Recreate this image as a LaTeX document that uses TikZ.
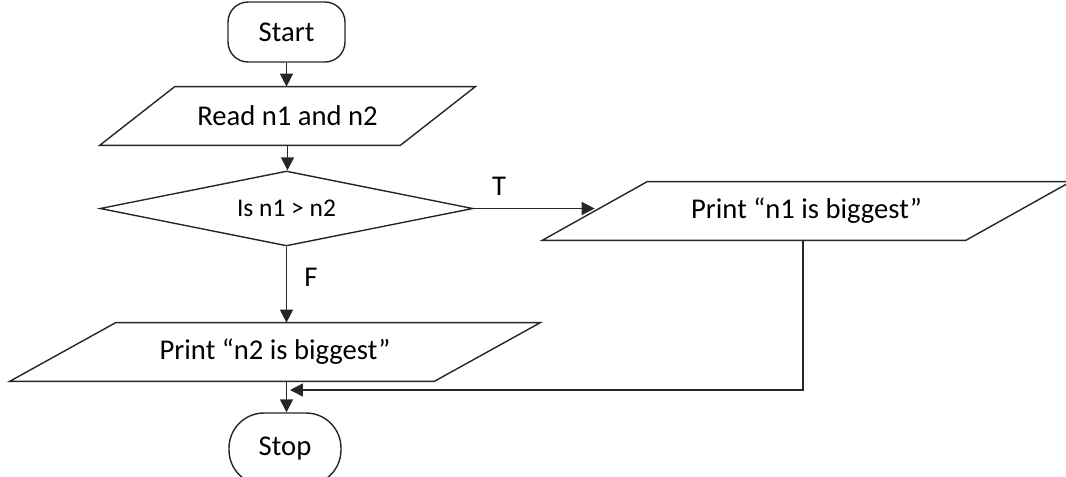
\documentclass[tikz,border=0pt]{standalone}
\usepackage{fontspec}
\setmainfont{Carlito}
\usetikzlibrary{shapes.geometric,arrows.meta}
\begin{document}
\begin{tikzpicture}[x=0.02cm,y=-0.02cm,
  every node/.style={font=\fontsize{16.3}{19}\selectfont},
  line/.style={draw=black!85, line width=0.8pt},
  arr/.style={line, -{Triangle[length=0.26cm,width=0.26cm]}},
  terminal/.style={line, rectangle, inner sep=0pt},
  io/.style={rectangle, inner sep=0pt, minimum height=1.16cm},
  decision/.style={line, diamond, inner sep=0pt},
  lbl/.style={inner sep=0pt}]
\useasboundingbox (0,0) rectangle (1066,477);
\clip (0,0) rectangle (1066,477);
% nodes
\node[terminal, rounded corners=0.4cm, minimum width=2.34cm, minimum height=1.2cm] (start) at (286.5,32) {Start};
\node[io, minimum width=6cm] (read) at (287.5,116) {Read n1 and n2};
\node[decision, aspect=4.97, minimum width=7.46cm, minimum height=1.5cm, font=\fontsize{14.5}{17}\selectfont] (dec) at (286.5,208.5) {Is n1 > n2};
\node[io, minimum width=8.46cm] (p1) at (806.5,211) {Print “n1 is biggest”};
\node[io, minimum width=8.48cm] (p2) at (275,352) {Print “n2 is biggest”};
\node[terminal, rounded corners=0.7cm, minimum width=2.24cm, minimum height=1.44cm] (stop) at (285,449) {Stop};
\node[lbl] (tlab) at (499,186) {T};
\node[lbl] (flab) at (311,277) {F};
% parallelogram outlines
\draw[line] ([xshift=-0.75cm]read.south west) -- ([xshift=0.75cm]read.north west) -- ([xshift=0.75cm]read.north east) -- ([xshift=-0.75cm]read.south east) -- cycle;
\draw[line] ([xshift=-1.05cm]p1.south west) -- ([xshift=1.05cm]p1.north west) -- ([xshift=1.05cm]p1.north east) -- ([xshift=-1.05cm]p1.south east) -- cycle;
\draw[line] ([xshift=-1.06cm]p2.south west) -- ([xshift=1.06cm]p2.north west) -- ([xshift=1.06cm]p2.north east) -- ([xshift=-1.06cm]p2.south east) -- cycle;
% connectors
\coordinate (merge) at (290,390);
\draw[arr] (dec.south |- p2.south) -- (dec.south |- stop.north);
\draw[arr] (start.south) -- (start.south |- read.north);
\draw[arr] (read.south) -- (read.south |- dec.north);
\draw[arr] (dec.east) -- (dec.east -| p1.west);
\draw[arr] (dec.south) -- (dec.south |- p2.north);
\draw[arr] ([xshift=-0.07cm]p1.south) |- (merge);
\end{tikzpicture}
\end{document}
